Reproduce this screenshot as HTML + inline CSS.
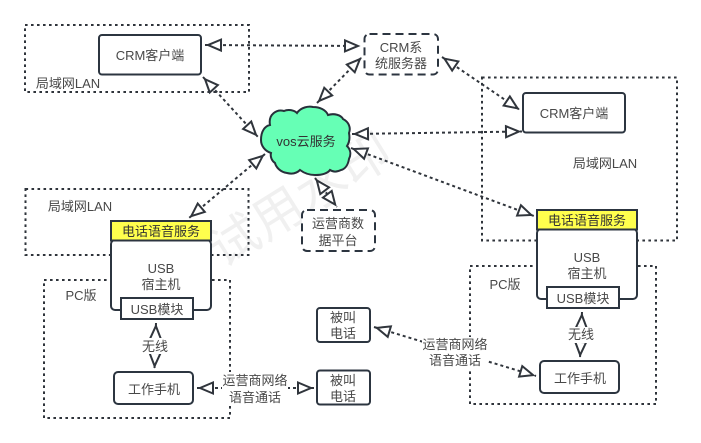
<!DOCTYPE html>
<html><head><meta charset="utf-8"><style>
html,body{margin:0;padding:0;background:#fff;width:701px;height:443px;overflow:hidden}
svg{display:block;filter:blur(0.3px)}
text{font-family:"Liberation Sans","Noto Sans CJK SC",sans-serif;font-size:13px;fill:#484848;text-anchor:middle}
.d{fill:none;stroke:#2f343b;stroke-width:2;stroke-dasharray:2.6 3.4}
.b{fill:#fff;stroke:#2c3540;stroke-width:2}
.n{fill:#fff;stroke:#2c3540;stroke-width:2;stroke-dasharray:8 5}
.l{stroke:#30353c;stroke-width:2;stroke-dasharray:3 3;fill:none}
.a{fill:#fff;stroke:#30353c;stroke-width:2;stroke-linejoin:miter}
</style></head><body>
<svg width="701" height="443" viewBox="0 0 701 443" xmlns="http://www.w3.org/2000/svg">
<defs>
<marker id="m" markerUnits="userSpaceOnUse" markerWidth="22" markerHeight="18" refX="19" refY="9" orient="auto-start-reverse" viewBox="0 0 22 18">
<path class="a" d="M3,3.500 L16,9 L3,14.500 Z"/>
</marker>
</defs>
<rect width="701" height="443" fill="#fff"/>
<g transform="translate(300,200) rotate(-32)">
<text x="0" y="17" style="font-size:50px;fill:#f0f0f0" textLength="204">试用水印</text>
</g>

<rect class="d" x="25" y="25" width="224" height="67"/>
<rect class="d" x="25.5" y="189" width="223" height="66"/>
<rect class="d" x="44" y="280" width="186" height="138"/>
<rect class="d" x="482" y="77.500" width="195" height="163"/>
<rect class="d" x="470" y="266" width="186" height="138"/>

<line class="l" x1="205" y1="45" x2="361" y2="46" marker-start="url(#m)" marker-end="url(#m)"/>
<line class="l" x1="203" y1="77" x2="258" y2="137" marker-start="url(#m)" marker-end="url(#m)"/>
<line class="l" x1="317" y1="103" x2="362" y2="57" marker-start="url(#m)" marker-end="url(#m)"/>
<line class="l" x1="442" y1="57" x2="520" y2="110" marker-start="url(#m)" marker-end="url(#m)"/>
<line class="l" x1="352" y1="134" x2="522" y2="131.500" marker-start="url(#m)" marker-end="url(#m)"/>
<line class="l" x1="351" y1="148" x2="534" y2="216" marker-start="url(#m)" marker-end="url(#m)"/>
<line class="l" x1="265" y1="154" x2="189" y2="218" marker-start="url(#m)" marker-end="url(#m)"/>
<line class="l" x1="315" y1="178" x2="337" y2="207" marker-start="url(#m)" marker-end="url(#m)"/>
<line class="l" x1="156" y1="323" x2="154.500" y2="369" marker-start="url(#m)" marker-end="url(#m)"/>
<line class="l" x1="582" y1="312" x2="580" y2="358" marker-start="url(#m)" marker-end="url(#m)"/>
<line class="l" x1="197" y1="388" x2="314" y2="388" marker-start="url(#m)" marker-end="url(#m)"/>
<line class="l" x1="374" y1="327" x2="536" y2="376" marker-start="url(#m)" marker-end="url(#m)"/>

<rect class="b" x="99" y="35" width="102" height="39.500" rx="3"/>
<text x="150" y="60">CRM客户端</text>
<text x="68" y="88">局域网LAN</text>
<text x="80" y="211">局域网LAN</text>
<text x="605" y="168">局域网LAN</text>

<rect class="n" x="364.500" y="34" width="73.500" height="40.500" rx="5"/>
<text x="401" y="52">CRM系</text>
<text x="401" y="68">统服务器</text>

<rect class="b" x="523" y="93" width="102" height="39.500" rx="3"/>
<text x="574" y="118">CRM客户端</text>

<path d="M261,140 C261,131 265,126 270,125 C268,114 277,109 284,111 C288,109 294,110 297,113 C301,107 309,106 313,107 C320,107 326,110 328,115 C334,113 341,115 343,119 C349,122 351,128 349,133 C350,138 349,143 347,146 C351,150 351,155 349,159 C348,165 345,169 341,170 C337,172 333,172 330,170 C327,174 321,175 315,175 C309,175 304,173 300,170 C296,174 291,174 287,173 C280,172 276,167 275,163 C272,161 270,157 271,153 C265,151 261,146 261,140 Z" fill="#66ffb5" stroke="#27303a" stroke-width="2"/>
<text x="306" y="146" style="fill:#333">vos云服务</text>

<rect class="n" x="302" y="210" width="73" height="41" rx="5"/>
<text x="338" y="228">运营商数</text>
<text x="338" y="245">据平台</text>

<!-- left stack -->
<rect class="b" x="111" y="240" width="100" height="70" rx="4"/>
<rect x="111" y="221" width="100" height="19.500" fill="#ffff4d" stroke="#2c3540" stroke-width="2"/>
<text x="161" y="236" style="fill:#333">电话语音服务</text>
<text x="161" y="273">USB</text>
<text x="161" y="289">宿主机</text>
<rect x="121" y="298" width="72" height="21" fill="#fff" stroke="#2c3540" stroke-width="2"/>
<text x="157" y="314">USB模块</text>

<!-- right stack -->
<rect class="b" x="537" y="229" width="100" height="70" rx="4"/>
<rect x="537" y="210" width="100" height="19.500" fill="#ffff4d" stroke="#2c3540" stroke-width="2"/>
<text x="587" y="225" style="fill:#333">电话语音服务</text>
<text x="587" y="262">USB</text>
<text x="587" y="278">宿主机</text>
<rect x="547" y="287" width="72" height="21" fill="#fff" stroke="#2c3540" stroke-width="2"/>
<text x="583" y="303">USB模块</text>

<text x="81" y="300">PC版</text>
<text x="505" y="289">PC版</text>

<rect class="b" x="114" y="372" width="79" height="32" rx="4"/>
<text x="154" y="394">工作手机</text>
<rect class="b" x="540" y="361" width="79" height="32" rx="4"/>
<text x="580" y="383">工作手机</text>

<rect class="b" x="317" y="308" width="53" height="34" rx="3"/>
<text x="343" y="322">被叫</text>
<text x="343" y="338">电话</text>
<rect class="b" x="317" y="370.500" width="53" height="34" rx="3"/>
<text x="343" y="385">被叫</text>
<text x="343" y="401">电话</text>

<rect x="142" y="338" width="27" height="16" fill="#fff"/>
<text x="155" y="351">无线</text>
<rect x="568" y="327" width="27" height="16" fill="#fff"/>
<text x="581" y="339">无线</text>

<rect x="222" y="372" width="66" height="34" fill="#fff"/>
<text x="255" y="385">运营商网络</text>
<text x="255" y="402">语音通话</text>
<rect x="422" y="337" width="66" height="34" fill="#fff"/>
<text x="455" y="349">运营商网络</text>
<text x="455" y="365">语音通话</text>
</svg>
</body></html>
